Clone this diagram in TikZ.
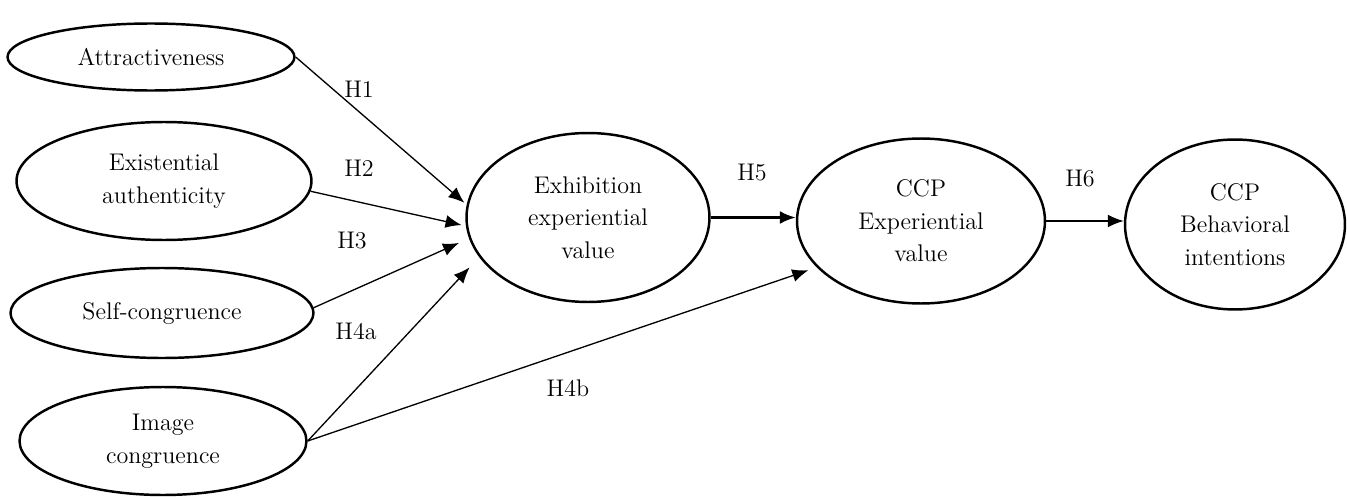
\documentclass[tikz,border=0pt]{standalone}
\usepackage{fontspec}
\usetikzlibrary{shapes.geometric,arrows.meta}

\begin{document}
\begin{tikzpicture}[x=0.02cm,y=-0.02cm,
 >={Latex[length=0.32cm,width=0.26cm]},
 var/.style={draw,ellipse,line width=1.4pt,inner sep=0pt,align=center,font=\fontsize{13.7}{18.5}\selectfont},
 lbl/.style={font=\fontsize{13.7}{18.5}\selectfont},
 link/.style={->,line width=0.75pt}]

 \useasboundingbox (0,0) rectangle (1347,497);

 \node[var,minimum width=5.74cm,minimum height=1.34cm] (att) at (151,57) {Attractiveness};

 \node[var,minimum width=5.9cm,minimum height=2.36cm] (auth) at (164,181) {Existential\\authenticity};

 \node[var,minimum width=6.06cm,minimum height=1.8cm] (self) at (162,313) {Self-congruence};

 \node[var,minimum width=5.74cm,minimum height=2.16cm] (img) at (163,441) {Image\\congruence};

 \node[var,minimum width=4.86cm,minimum height=3.38cm] (exh) at (588,217.5) {Exhibition\\experiential\\value};

 \node[var,minimum width=4.96cm,minimum height=3.3cm] (ccp) at (921,221) {CCP\\Experiential\\value};

 \node[var,minimum width=4.4cm,minimum height=3.4cm] (bi) at (1235,224.5) {CCP\\Behavioral\\intentions};

 \node[lbl] (h1) at (359,89) {H1};
 \node[lbl] (h2) at (359,168) {H2};
 \node[lbl] (h3) at (352,241) {H3};
 \node[lbl] (h4a) at (356,331) {H4a};
 \node[lbl] (h4b) at (568,388) {H4b};
 \node[lbl] (h5) at (752,173) {H5};
 \node[lbl] (h6) at (1080,179) {H6};

 \draw[link,shorten >=0.06cm] (att.east) -- (exh.174);
 \draw[link,shorten >=0.09cm] (auth.-4) -- (exh.184);
 \draw[link,shorten >=0.22cm] (self.2) -- (exh.190);
 \draw[link,shorten >=0.28cm] (img.east) -- (exh.200);
 \draw[link,shorten >=0.18cm] (img.east) -- (ccp.204);
 \draw[link,line width=1.4pt] (exh.east) -- (exh.east -| ccp.west);
 \draw[link,line width=1pt] (ccp.east) -- (ccp.east -| bi.west);

\end{tikzpicture}
\end{document}
